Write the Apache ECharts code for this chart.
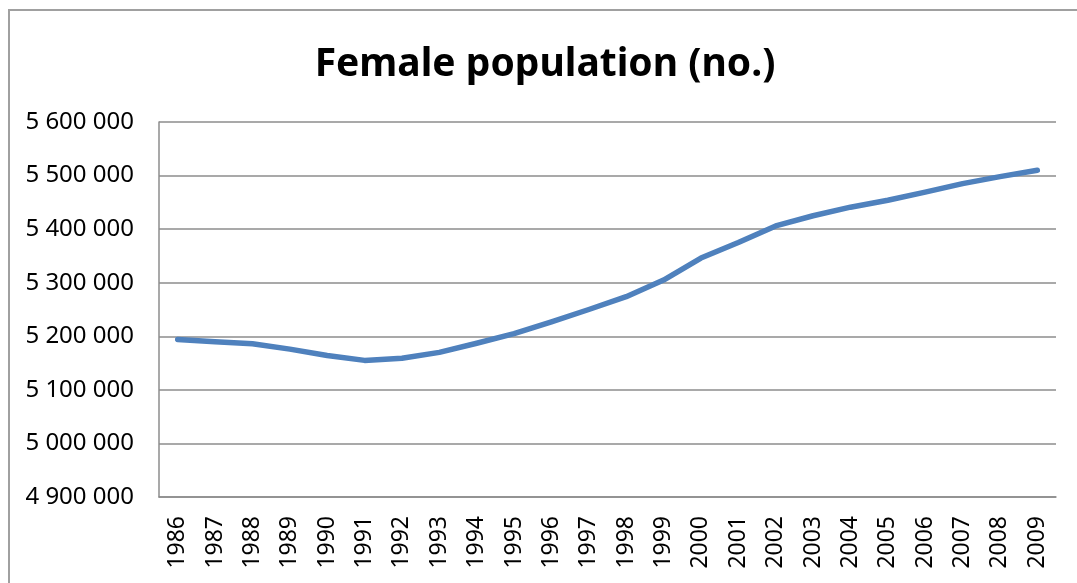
<!DOCTYPE html>
<html>
<head>
<meta charset="utf-8">
<script src="https://cdn.jsdelivr.net/npm/echarts@6/dist/echarts.min.js"></script>
<style>
html, body { margin: 0; padding: 0; background: #fff; }
#chart { width: 1077px; height: 583px; }
</style>
</head>
<body>
<div id="chart"></div>
<script>
// years on the category axis
var years = ['1986', '1987', '1988', '1989', '1990', '1991', '1992', '1993', '1994', '1995', '1996', '1997',
    '1998', '1999', '2000', '2001', '2002', '2003', '2004', '2005', '2006', '2007', '2008', '2009'];
// female population
var femalePop = [5194000, 5190000, 5186000, 5176000, 5164000, 5155000, 5159000, 5170000, 5187000, 5205000,
    5227000, 5250000, 5274000, 5305000, 5346000, 5375000, 5406000, 5425000, 5441000, 5454000, 5469000,
    5485000, 5498000, 5510000];

var chart = echarts.init(document.getElementById('chart'));

// space between thousands, like the source
var fmt = function (v) {
    return String(v).replace(/\B(?=(\d{3})+(?!\d))/g, ' ');
};

var option = {
    backgroundColor: '#fff',
    animation: false,
    title: {
        text: 'Female population (no.)',
        left: 540,
        top: 40,
        textAlign: 'center',
        textStyle: { fontFamily: 'Noto Sans', fontSize: 39, fontWeight: 'bold', color: '#000' }
    },
    graphic: [{
        type: 'rect',
        shape: { x: 9, y: 10, width: 1090, height: 600 },
        style: { fill: null, stroke: '#a0a0a0', lineWidth: 2 },
        silent: true
    }],
    grid: { left: 159, right: 21, top: 122, bottom: 86 },
    xAxis: {
        type: 'category',
        data: years,
        boundaryGap: true,
        axisLine: { lineStyle: { color: '#8c8c8c', width: 1.5 } },
        axisTick: { show: false },
        axisLabel: {
            rotate: 90,
            interval: 0,
            margin: 19,
            color: '#000',
            fontFamily: 'Noto Sans',
            fontSize: 23
        }
    },
    yAxis: {
        type: 'value',
        min: 4900000,
        max: 5600000,
        interval: 100000,
        axisLine: { show: true, lineStyle: { color: '#8c8c8c', width: 1.5 } },
        axisTick: { show: false },
        splitLine: { lineStyle: { color: '#8c8c8c', width: 1.5 } },
        axisLabel: {
            margin: 25,
            color: '#000',
            fontFamily: 'Noto Sans',
            fontSize: 24,
            formatter: fmt
        }
    },
    series: [{
        type: 'line',
        data: femalePop,
        symbol: 'none',
        lineStyle: { color: '#4f81bd', width: 5.5, cap: 'round', join: 'round' }
    }]
};
chart.setOption(option);
</script>
</body>
</html>
